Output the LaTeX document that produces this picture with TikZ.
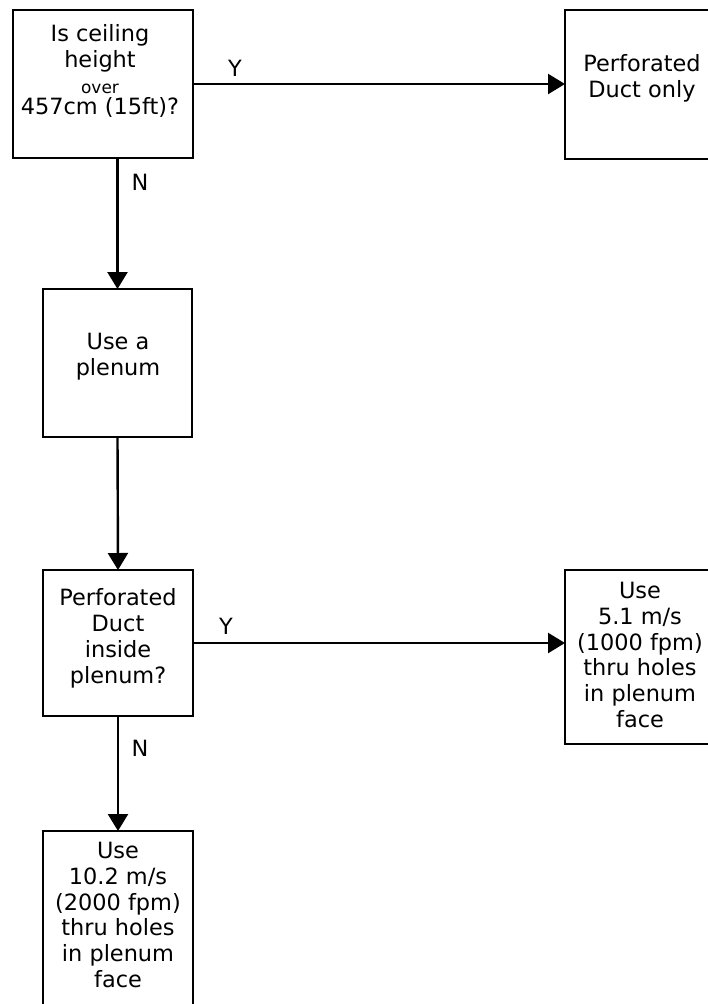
\documentclass[tikz,border=0pt]{standalone}
\usepackage{fontspec}
\setmainfont{DejaVu Sans}
\usetikzlibrary{arrows.meta}
\begin{document}
\begin{tikzpicture}[x=1bp,y=-1bp,
  box/.style={draw, line width=2.4bp, rectangle, inner sep=0pt, outer sep=0pt, anchor=north west},
  txt/.style={align=center, inner sep=0pt, font=\fontsize{22.5}{26}\selectfont},
  lbl/.style={inner sep=0pt, font=\fontsize{22.5}{26}\selectfont},
  conn/.style={line width=2.4bp, -{Triangle[length=17bp,width=20bp]}}]
\useasboundingbox (0,0) rectangle (708,1004);
\fill[white] (0,0) rectangle (708,1004);
\clip (0,0) rectangle (708,1004);
% boxes
\node[box, minimum width=180bp, minimum height=148bp] (b1) at (13,10) {};
\node[box, minimum width=152bp, minimum height=149bp] (b2) at (565,10) {};
\node[box, minimum width=149bp, minimum height=148bp] (b3) at (43,289) {};
\node[box, minimum width=150bp, minimum height=146bp] (b4) at (43,570) {};
\node[box, minimum width=150bp, minimum height=174bp] (b5) at (565,570) {};
\node[box, minimum width=150bp, minimum height=180bp] (b6) at (43,831) {};
% texts
\node[txt] (t1) at (100,71) {Is ceiling\\height\\{\fontsize{17}{20}\selectfont over}\\[-5bp]457cm (15ft)?};
\node[txt] (t2) at (642,78) {Perforated\\Duct only};
\node[txt] (t3) at (118,357) {Use a\\plenum};
\node[txt] (t4) at (118,638) {Perforated\\Duct\\inside\\plenum?};
\node[txt] (t5) at (640,655) {Use\\5.1 m/s\\(1000 fpm)\\thru holes\\in plenum\\face};
\node[txt] (t6) at (118,915) {Use\\10.2 m/s\\(2000 fpm)\\thru holes\\in plenum\\face};
% connectors
\draw[conn] (b1.east) -- (b1.east -| b2.west);
\draw[conn] (b3.north |- b1.south) -- (b3.north);
\draw[conn] (b3.south) -- (b4.north);
\draw[conn] (b4.east) -- (b4.east -| b5.west);
\draw[conn] (b4.south) -- (b6.north);
% labels
\node[lbl] (y1) at (235,68) {Y};
\node[lbl] (n1) at (140,182) {N};
\node[lbl] (y2) at (226,626) {Y};
\node[lbl] (n2) at (140,748) {N};
\end{tikzpicture}
\end{document}
